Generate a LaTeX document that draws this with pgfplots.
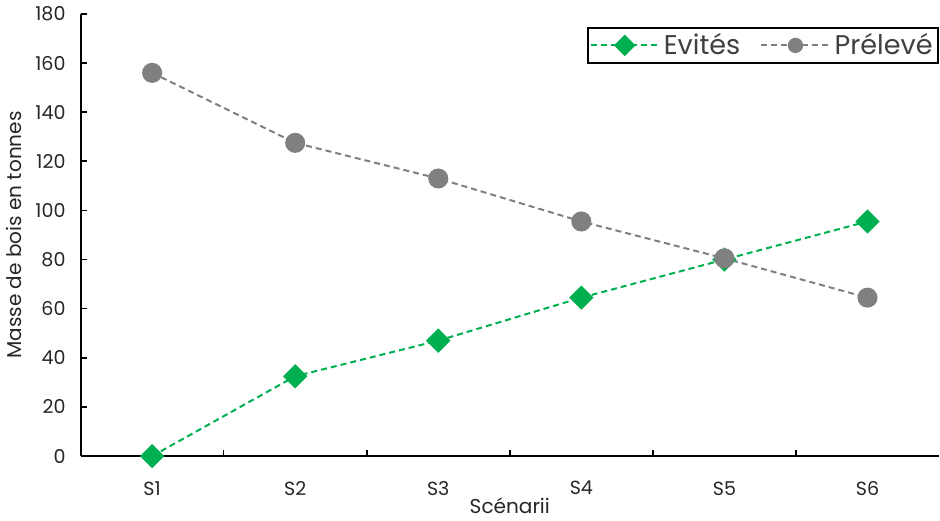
\documentclass[border=0pt]{standalone}
\usepackage{pgfplots}
\pgfplotsset{compat=1.18}
\usepackage{fontspec}
\setmainfont{Poppins}
\definecolor{cgreen}{RGB}{0,176,80}
\definecolor{cgray}{RGB}{128,128,128}
\begin{document}
\begin{tikzpicture}
\begin{axis}[
  width=428pt, height=220.5pt, scale only axis,
  xmin=0.5, xmax=6.5, ymin=0, ymax=180,
  axis lines*=left,
  axis line style={line width=1pt, black},
  ytick={0,20,...,180},
  xtick={1.5,2.5,3.5,4.5,5.5}, xticklabels={},
  extra x ticks={1,2,3,4,5,6},
  extra x tick labels={S1,S2,S3,S4,S5,S6},
  extra x tick style={major tick length=0pt},
  major tick length=3pt,
  tick style={line width=0.8pt, black},
  tick align=inside,
  /pgf/number format/assume math mode=true,
  tick label style={font=\fontsize{9.5}{11}\selectfont, text=black!85},
  yticklabel style={xshift=-4pt},
  xticklabel style={yshift=-9pt},
  xlabel={Scénarii},
  ylabel={Masse de bois en tonnes},
  label style={font=\fontsize{10}{12}\selectfont, text=black!85},
  xlabel style={at={(axis description cs:0.5,-0.113)}, anchor=center},
  ylabel style={at={(axis description cs:-0.0771,0.5)}, anchor=center},
  legend style={at={(rel axis cs:1,1)}, anchor=north east, yshift=-6.5pt,
    draw=black, line width=0.8pt, font=\fontsize{13.5}{15}\selectfont, text=black!75,
    legend columns=2, inner sep=0.8pt,
    /tikz/every even column/.append style={column sep=8pt}},
  legend image code/.code={
    \draw[mark repeat=2, mark phase=2, mark size=3.3pt] plot coordinates {(0pt,0pt)(17pt,0pt)(34pt,0pt)};
  },
  clip=false,
]
\addplot[cgreen, line width=1pt, dash pattern=on 3pt off 2pt, mark=square*,
  mark size=3.8pt, mark options={solid, rotate=45, fill=cgreen, draw=cgreen}]
  coordinates {(1,0)(2,32.5)(3,47)(4,64.5)(5,80)(6,95.5)};
\addlegendentry{Evités}
\addplot[cgray, line width=1pt, dash pattern=on 3pt off 2pt, mark=*,
  mark size=4.5pt, mark options={solid, fill=cgray, draw=cgray}]
  coordinates {(1,156)(2,127.5)(3,113)(4,95.5)(5,80.5)(6,64.5)};
\addlegendentry{Prélevé}
\end{axis}
\end{tikzpicture}
\end{document}
